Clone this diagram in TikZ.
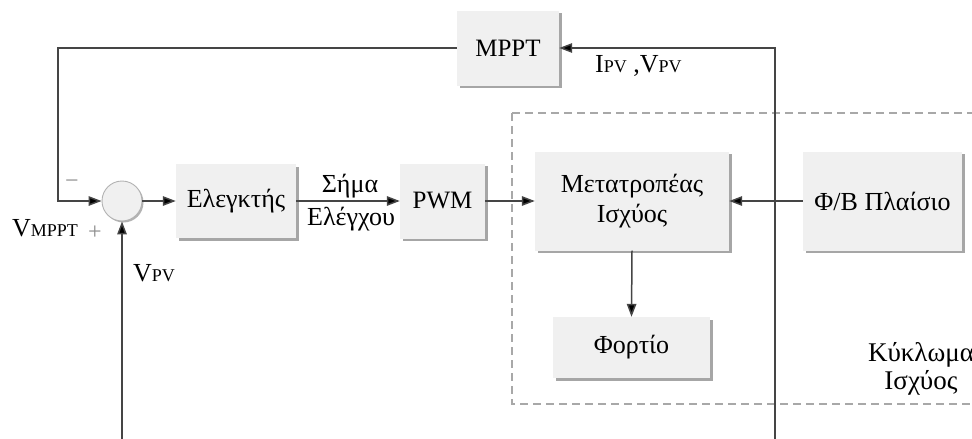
\documentclass[tikz,border=0pt]{standalone}
\usepackage{fontspec}
\setmainfont{Liberation Serif}
\usetikzlibrary{shadows,arrows.meta}
\definecolor{boxfill}{HTML}{F0F0F0}
\definecolor{wirecol}{HTML}{454545}
\definecolor{dashcol}{HTML}{A8A8A8}
\definecolor{signcol}{HTML}{8C8C8C}
\begin{document}
\begin{tikzpicture}[x=1pt,y=-1pt,
  blk/.style={fill=boxfill, draw=none, inner sep=0pt, align=center,
    font=\fontsize{26}{30}\selectfont,
    drop shadow={shadow xshift=2.5pt,shadow yshift=-2.5pt,fill=black,opacity=0.35}},
  sumnode/.style={circle, fill=boxfill, draw=black!30, line width=0.9pt,
    minimum size=40pt, inner sep=0pt,
    drop shadow={shadow xshift=1.5pt,shadow yshift=-1.5pt,fill=black,opacity=0.3}},
  wire/.style={draw=wirecol, line width=1.5pt},
  arr/.style={wire, -{Triangle[length=13pt,width=9.5pt,fill=black]}},
  lbl/.style={inner sep=0pt, font=\fontsize{26}{30}\selectfont},
  sgn/.style={inner sep=0pt, text=signcol, font=\fontsize{24}{26}\selectfont},
  latin/.style={font=\fontsize{25}{29}\selectfont},
]
\clip (0,0) rectangle (972,439);

% power-circuit frame (runs past the right edge)
\draw[dashcol, line width=1.4pt, dash pattern=on 8pt off 5pt]
  (512,113) -- (990,113) (512,113) -- (512,404) -- (990,404);

% blocks
\node[blk, latin, minimum width=102pt, minimum height=75pt] (mppt) at (508,48) {MPPT};
\node[sumnode] (sum) at (122,201) {};
\node[blk, minimum width=120pt, minimum height=74pt] (ctrl) at (236,201) {Ελεγκτής};
\node[blk, latin, minimum width=85pt, minimum height=75pt] (pwm) at (442.5,201) {PWM};
\node[blk, minimum width=194pt, minimum height=99pt] (conv) at (632,201) {Μετατροπέας\\Ισχύος};
\node[blk, minimum width=159pt, minimum height=99pt] (panel) at (882.5,201) {Φ/Β Πλαίσιο};
\node[blk, minimum width=157pt, minimum height=61pt] (load) at (631.5,347.5) {Φορτίο};

% wire end points
\coordinate (tl) at (58,48);
\coordinate (bl) at (122,439);
\coordinate (tr) at (775,48);
\coordinate (br) at (775,439);

% connectors
\draw[arr] (mppt.west) -- (tl) |- (sum.west);
\draw[arr] (sum.east) -- (ctrl.west);
\draw[arr] (ctrl.east) -- (pwm.west);
\draw[arr] (pwm.east) -- (conv.west);
\draw[arr] (panel.west) -- (conv.east);
\draw[arr] (conv.south) -- (load.north);
\draw[arr] (bl) -- (sum.south);
\draw[arr] (br) -- (tr) -- (mppt.east);

% labels
\node[sgn] (minus) at (72,184) {−};
\node[sgn] (plus) at (95,233) {+};
\node[lbl, anchor=base west] (vmppt) at (12,236) {V{\fontsize{18}{20}\selectfont MPPT}};
\node[lbl, anchor=base west] (vpv) at (133,281) {V{\fontsize{18}{20}\selectfont PV}};
\node[lbl, anchor=base west] (meas) at (595,72) {I{\fontsize{18}{20}\selectfont PV} ,V{\fontsize{18}{20}\selectfont PV}};
\node[lbl] (sig1) at (350,186) {Σήμα};
\node[lbl] (sig2) at (351,219) {Ελέγχου};
\node[lbl, align=center, font=\fontsize{27}{28}\selectfont] (circ) at (921,369) {Κύκλωμα\\Ισχύος};
\end{tikzpicture}
\end{document}
